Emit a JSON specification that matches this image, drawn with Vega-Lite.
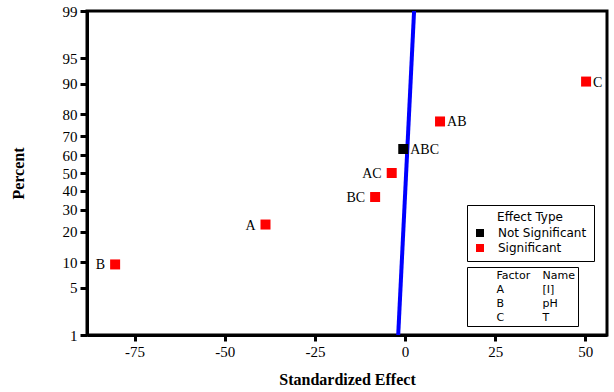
{
  "$schema": "https://vega.github.io/schema/vega-lite/v6.json",
  "width": 520,
  "height": 324,
  "autosize": {"type": "none"},
  "padding": {"left": 87, "top": 11, "right": 7, "bottom": 57},
  "background": "white",
  "config": {
    "view": {"stroke": "black", "strokeWidth": 3},
    "axis": {"grid": false}
  },
  "datasets": {
    "effects": [
      {"Term": "B", "Effect": -80.4, "Score": -1.313, "Type": "Significant"},
      {"Term": "A", "Effect": -38.7, "Score": -0.740, "Type": "Significant"},
      {"Term": "BC", "Effect": -8.3, "Score": -0.345, "Type": "Significant"},
      {"Term": "AC", "Effect": -3.7, "Score": 0, "Type": "Significant"},
      {"Term": "ABC", "Effect": -0.5, "Score": 0.345, "Type": "Not Significant"},
      {"Term": "AB", "Effect": 9.7, "Score": 0.740, "Type": "Significant"},
      {"Term": "C", "Effect": 50.2, "Score": 1.313, "Type": "Significant"}
    ],
    "fit": [
      {"Effect": -1.9, "Score": -2.3263},
      {"Effect": 2.5, "Score": 2.3263}
    ],
    "factors": [
      {"cell": "Factor"}, {"cell": "Name"},
      {"cell": "A"}, {"cell": "[I]"},
      {"cell": "B"}, {"cell": "pH"},
      {"cell": "C"}, {"cell": "T"}
    ]
  },
  "layer": [
    {
      "data": {"name": "fit"},
      "mark": {"type": "line", "color": "#0000ff", "strokeWidth": 4, "clip": true},
      "encoding": {
        "x": {
          "field": "Effect", "type": "quantitative",
          "scale": {"domain": [-88.2, 56], "nice": false, "zero": false},
          "axis": {
            "title": "Standardized Effect",
            "values": [-75, -50, -25, 0, 25, 50],
            "tickCount": 20,
            "labelExpr": "datum.value < 0 ? '-' + abs(datum.value) : '' + datum.value",
            "labelOverlap": false,
            "titleFont": "Liberation Serif", "titleFontSize": 16, "titleFontWeight": "bold", "titleColor": "black", "titlePadding": 12,
            "labelFont": "Liberation Serif", "labelFontSize": 15, "labelColor": "black", "labelPadding": 3,
            "tickColor": "black", "tickWidth": 3, "tickSize": 6,
            "domainColor": "black", "domainWidth": 3
          }
        },
        "y": {
          "field": "Score", "type": "quantitative",
          "scale": {"domain": [-2.3263, 2.3263], "nice": false, "zero": false},
          "axis": {
            "title": "Percent",
            "values": [-2.3263, -1.6449, -1.2816, -0.8416, -0.5244, -0.2533, 0, 0.2533, 0.5244, 0.8416, 1.2816, 1.6449, 2.3263],
            "tickCount": 20,
            "labelExpr": "format(cumulativeNormal(datum.value) * 100, '.0f')",
            "labelOverlap": false,
            "titleFont": "Liberation Serif", "titleFontSize": 16, "titleFontWeight": "bold", "titleColor": "black", "titlePadding": 36,
            "labelFont": "Liberation Serif", "labelFontSize": 15, "labelColor": "black", "labelPadding": 3,
            "tickColor": "black", "tickWidth": 3, "tickSize": 7,
            "domainColor": "black", "domainWidth": 3
          }
        }
      }
    },
    {
      "data": {"name": "effects"},
      "mark": {"type": "point", "shape": "square", "filled": true, "size": 100, "opacity": 1},
      "encoding": {
        "x": {"field": "Effect", "type": "quantitative"},
        "y": {"field": "Score", "type": "quantitative"},
        "color": {
          "field": "Type", "type": "nominal",
          "scale": {"domain": ["Not Significant", "Significant"], "range": ["#000000", "#ff0000"]},
          "legend": {
            "title": "Effect Type",
            "orient": "none", "legendX": 380, "legendY": 194,
            "strokeColor": "black", "fillColor": "white", "padding": 7,
            "titleFont": "DejaVu Sans", "titleFontSize": 12, "titleFontWeight": "normal", "titleColor": "black",
            "titleAnchor": "middle", "titlePadding": 3,
            "labelFont": "DejaVu Sans", "labelFontSize": 12, "labelColor": "black",
            "labelExpr": "datum.label + '\u00a0\u00a0'",
            "symbolType": "square", "symbolSize": 64, "symbolStrokeWidth": 0,
            "labelOffset": 12, "rowPadding": 3
          }
        }
      }
    },
    {
      "data": {"name": "effects"},
      "transform": [{"filter": {"field": "Term", "oneOf": ["B", "A", "BC", "AC"]}}],
      "mark": {"type": "text", "align": "right", "baseline": "middle", "dx": -10, "dy": 1, "font": "Liberation Serif", "fontSize": 14, "color": "black"},
      "encoding": {
        "x": {"field": "Effect", "type": "quantitative"},
        "y": {"field": "Score", "type": "quantitative"},
        "text": {"field": "Term"}
      }
    },
    {
      "data": {"name": "effects"},
      "transform": [{"filter": {"field": "Term", "oneOf": ["ABC", "AB", "C"]}}],
      "mark": {"type": "text", "align": "left", "baseline": "middle", "dx": 7, "dy": 1, "font": "Liberation Serif", "fontSize": 14, "color": "black"},
      "encoding": {
        "x": {"field": "Effect", "type": "quantitative"},
        "y": {"field": "Score", "type": "quantitative"},
        "text": {"field": "Term"}
      }
    },
    {
      "data": {"name": "factors"},
      "mark": {"type": "point", "opacity": 0},
      "encoding": {
        "shape": {
          "field": "cell", "type": "nominal",
          "scale": {"domain": ["Factor", "A", "B", "C", "Name", "[I]", "pH", "T"]},
          "legend": {
            "title": "\u00a0",
            "titleOrient": "left", "titleFontSize": 11, "titlePadding": 14.5,
            "orient": "none", "legendX": 380, "legendY": 256,
            "strokeColor": "black", "fillColor": "white", "padding": 3,
            "columns": 2, "columnPadding": 0, "rowPadding": 2,
            "symbolSize": 0, "symbolOpacity": 0, "symbolStrokeWidth": 0,
            "labelOffset": 1,
            "labelFont": "DejaVu Sans", "labelFontSize": 11, "labelColor": "black",
            "labelExpr": "(datum.value == 'Name' || datum.label == 'Name') ? 'Name\u00a0\u00a0\u00a0\u00a0\u00a0\u00a0\u00a0' : datum.label"
          }
        }
      }
    }
  ]
}
